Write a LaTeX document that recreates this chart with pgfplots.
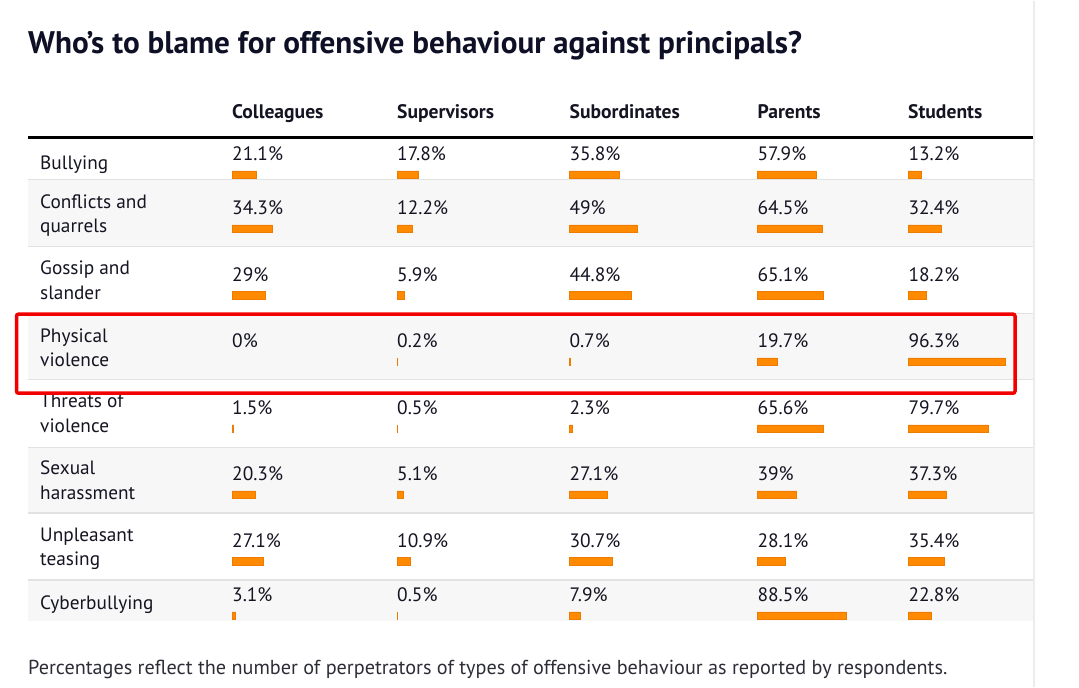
\documentclass[border=0pt]{standalone}
\usepackage{pgfplots}
\pgfplotsset{compat=1.18}
\usepackage{pgfplotstable}
\usepackage{fontspec}
\setmainfont{PT Sans}
\definecolor{barfill}{RGB}{255,138,0}
\definecolor{barline}{RGB}{238,124,0}
\definecolor{titlec}{RGB}{14,16,38}
\definecolor{txt}{RGB}{20,20,34}
\definecolor{rowgray}{RGB}{247,247,247}
\definecolor{sepgray}{RGB}{226,226,226}
\definecolor{edgegray}{RGB}{236,236,236}
\definecolor{hl}{RGB}{242,0,0}
\definecolor{foot}{RGB}{45,45,55}

% pos = vertical position of each row's bar (pixels from top)
\pgfplotstableread{
pos   col  sup  sub  par  stu
174   21.1 17.8 35.8 57.9 13.2
228   34.3 12.2 49   64.5 32.4
294.5 29   5.9  44.8 65.1 18.2
361   0    0.2  0.7  19.7 96.3
428   1.5  0.5  2.3  65.6 79.7
494   20.3 5.1  27.1 39   37.3
560.5 27.1 10.9 30.7 28.1 35.4
615   3.1  0.5  7.9  88.5 22.8
}\data

\newcommand\pctfont{\fontsize{19.4}{22}\selectfont}
\newcommand\lblfont{\fontsize{19.3}{22}\selectfont}
\newcommand\hdrfont{\fontsize{19.6}{22}\selectfont\bfseries}

\pgfplotsset{
  frame/.style={at={(0pt,0pt)},anchor=south west,width=1079pt,height=686pt,
    scale only axis,xmin=0,xmax=1079,ymin=0,ymax=686,y dir=reverse,hide axis,clip=false},
  col/.style 2 args={at={(#1pt,0pt)},anchor=south west,width=#2pt,height=686pt,
    scale only axis,xmin=0,xmax=100,ymin=0,ymax=686,y dir=reverse,hide axis,clip=false},
}
\newcommand{\colplot}[1]{%
  \addplot[xbar, bar width=7.6pt, bar shift=0pt, fill=barfill, draw=barline, line width=0.5pt,
    x filter/.expression={x<=0 ? nan : x}] table[x=#1,y=pos]{\data};
  \addplot[draw=none, mark=none, point meta=explicit,
    nodes near coords={\pgfmathprintnumber[assume math mode=true]{\pgfplotspointmeta}\%},
    every node near coord/.append style={anchor=base west, inner sep=0pt, font=\pctfont, text=txt}]
    table[x expr=0, y expr=\thisrow{pos}-14, meta=#1]{\data};
}
\newcommand{\lbl}[2]{\node[anchor=base west, inner sep=0pt, font=\lblfont, text=txt] at (axis cs:40,#1) {#2};}
\newcommand{\hdr}[2]{\node[anchor=base west, inner sep=0pt, font=\hdrfont, text=txt] at (axis cs:#1,118) {#2};}
\newcommand{\sep}[1]{\draw[sepgray, line width=1.3pt] (axis cs:28,#1) -- (axis cs:1033,#1);}

\begin{document}
\begin{tikzpicture}
\begin{axis}[frame]
  \path (axis cs:0,0) rectangle (axis cs:1079,686);
  % row backgrounds
  \fill[rowgray] (axis cs:28,179) rectangle (axis cs:1033,246);
  \fill[rowgray] (axis cs:28,312.5) rectangle (axis cs:1033,379);
  \fill[rowgray] (axis cs:28,446.5) rectangle (axis cs:1033,512.3);
  \fill[rowgray] (axis cs:28,579.3) rectangle (axis cs:1033,620.7);
  % separators
  \sep{179}\sep{246}\sep{312.5}\sep{379}\sep{446.5}\sep{512.3}\sep{579.3}
  \draw[black, line width=2.6pt] (axis cs:28,137) -- (axis cs:1033,137);
  \draw[edgegray, line width=1.3pt] (axis cs:1034,0) -- (axis cs:1034,686);
  % title
  \node[anchor=base west, inner sep=0pt, text=titlec, font=\fontsize{31.2}{34}\selectfont\bfseries]
    at (axis cs:28,52.7) {Who{\char"27}s to blame for offensive behaviour against principals?};
  % headers
  \hdr{232}{Colleagues}
  \hdr{397}{Supervisors}
  \hdr{569.5}{Subordinates}
  \hdr{757.5}{Parents}
  \hdr{908}{Students}
  % row labels
  \lbl{168.5}{Bullying}
  \lbl{207.7}{Conflicts and}
  \lbl{232.3}{quarrels}
  \lbl{274.3}{Gossip and}
  \lbl{299}{slander}
  \lbl{341.5}{Physical}
  \lbl{366.3}{violence}
  \lbl{407.3}{Threats of}
  \lbl{432.3}{violence}
  \lbl{474}{Sexual}
  \lbl{499}{harassment}
  \lbl{540.7}{Unpleasant}
  \lbl{565}{teasing}
  \lbl{608.5}{Cyberbullying}
  % footnote
  \node[anchor=base west, inner sep=0pt, text=foot, font=\fontsize{20.2}{24}\selectfont]
    at (axis cs:28,674) {Percentages reflect the number of perpetrators of types of offensive behaviour as reported by respondents.};
\end{axis}
\begin{axis}[col={232}{116}]     \colplot{col} \end{axis}
\begin{axis}[col={397}{122}]     \colplot{sup} \end{axis}
\begin{axis}[col={569.3}{138.7}] \colplot{sub} \end{axis}
\begin{axis}[col={757.3}{101}]   \colplot{par} \end{axis}
\begin{axis}[col={908.3}{100.5}] \colplot{stu} \end{axis}
\begin{axis}[frame]
  \draw[hl, line width=3.5pt, rounded corners=2pt] (axis cs:16.5,313.5) rectangle (axis cs:1015,392.5);
\end{axis}
\end{tikzpicture}
\end{document}
